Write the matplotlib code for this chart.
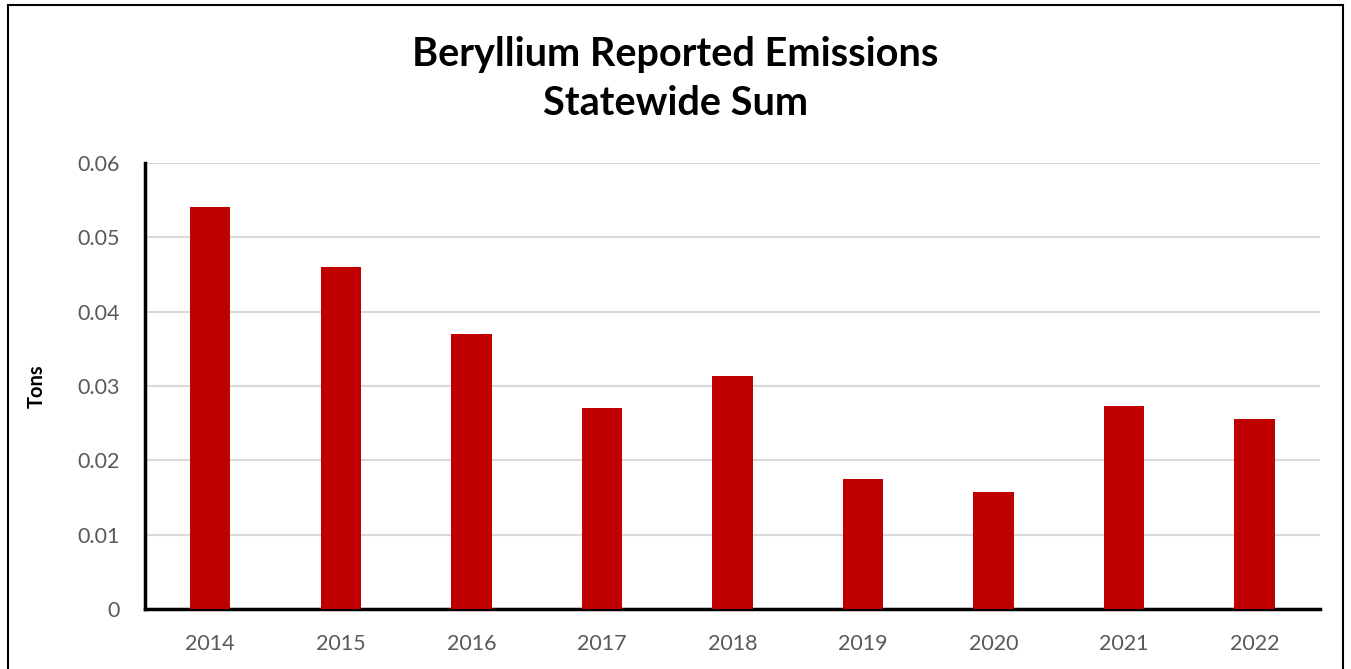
import matplotlib.pyplot as plt
from matplotlib.patches import Rectangle

years = ['2014', '2015', '2016', '2017', '2018', '2019', '2020', '2021', '2022']
tons = [0.0541, 0.0460, 0.0370, 0.0270, 0.0314, 0.0175, 0.0158, 0.0273, 0.0256]

plt.rcParams['font.family'] = ['Lato', 'DejaVu Sans']

fig = plt.figure(figsize=(13.51, 6.69), dpi=100)
ax = fig.add_axes([0.1073, 0.0897, 0.8697, 0.6667])

x = range(len(years))
ax.bar(x, tons, width=0.31, color='#C00000', zorder=3)

ax.set_xlim(-0.5, len(years) - 0.5)
ax.set_ylim(0, 0.06)
ax.set_yticks([0, 0.01, 0.02, 0.03, 0.04, 0.05, 0.06])
ax.set_yticklabels(['0', '0.01', '0.02', '0.03', '0.04', '0.05', '0.06'])
ax.set_xticks(list(x))
ax.set_xticklabels(years)
ax.tick_params(axis='both', length=0, labelsize=15.5, labelcolor='#595959')
ax.tick_params(axis='x', pad=18)
ax.tick_params(axis='y', pad=18)

# gridlines
ax.yaxis.grid(True, color='#D9D9D9', linewidth=1.5, zorder=0)
ax.set_axisbelow(True)

for s in ['top', 'right']:
    ax.spines[s].set_visible(False)
for s in ['left', 'bottom']:
    ax.spines[s].set_linewidth(2.5)
    ax.spines[s].set_color('black')

ax.set_ylabel('Tons', fontsize=14.5, fontweight='bold', labelpad=22)

fig.text(0.5, 0.882, 'Beryllium Reported Emissions\nStatewide Sum', ha='center', va='center',
         fontsize=28.5, fontweight='bold', linespacing=1.42)

# outer frame
fig.patches.append(Rectangle((0.006, -0.01), 0.988, 1.002, transform=fig.transFigure,
                             fill=False, edgecolor='black', linewidth=1.5))

fig.savefig('out.png', dpi=100)
